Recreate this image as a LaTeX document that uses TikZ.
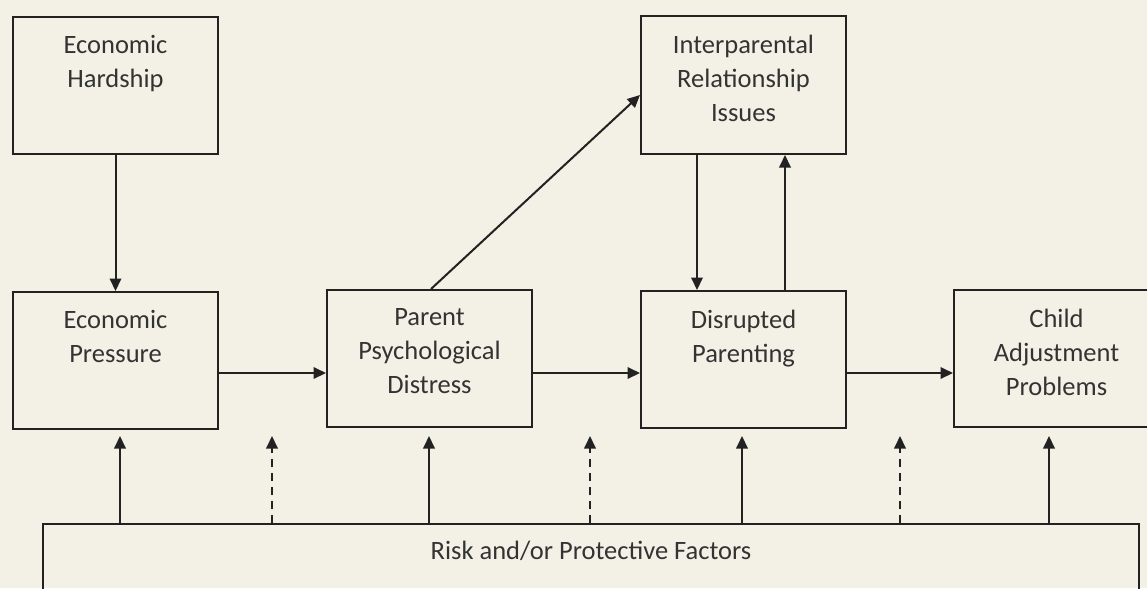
\documentclass[tikz,border=0pt]{standalone}
\usepackage{fontspec}
\setmainfont{Carlito}
\usepackage{tikz}
\usetikzlibrary{arrows.meta,positioning}
\definecolor{paper}{RGB}{243,241,230}
\definecolor{ink}{RGB}{34,34,34}
\definecolor{txtgray}{RGB}{51,51,51}

\begin{document}
\begin{tikzpicture}[x=0.4pt,y=-0.4pt,
		box/.style={draw=ink,line width=.8pt,minimum width=82pt,minimum height=54.8pt,anchor=north west,inner sep=0pt},
		txt/.style={anchor=north,align=center,inner sep=0pt,yshift=-7.7pt,text=txtgray,
			font=\fontsize{10.6}{13.6}\selectfont,execute at begin node=\strut},
		arr/.style={draw=ink,line width=.8pt,-{Triangle[length=5pt,width=4.6pt]}},
		dsh/.style={arr,dash pattern=on 3.2pt off 2.4pt}
		]
			\useasboundingbox[fill=paper] (0,0) rectangle (1147,588);
			\node[box,label={[txt]north:Economic\\Hardship}] (hardship) at (12,16) {};
			\node[box,label={[txt]north:Economic\\Pressure}] (pressure) at (12,291) {};
			\node[box,label={[txt]north:Parent\\Psychological\\Distress}] (distress) at (326,289) {};
			\node[box,minimum height=55.2pt,label={[txt]north:Interparental\\Relationship\\Issues}] (inter) at (640,15) {};
			\node[box,label={[txt]north:Disrupted\\Parenting}] (disrupted) at (640,290) {};
			\node[box,label={[txt]north:Child\\Adjustment\\Problems}] (child) at (953,289) {};
			\node[box,minimum width=438.4pt,minimum height=60pt,label={[txt,yshift=3pt]north:Risk and/or Protective Factors}] (risk) at (42,523) {};
			\coordinate (lane) at (0,373);
			\draw[arr] (hardship) -- (pressure);
			\draw[arr] (pressure.east |- lane) -- (distress.west |- lane);
			\draw[arr] (distress.east |- lane) -- (disrupted.west |- lane);
			\draw[arr] (disrupted.east |- lane) -- (child.west |- lane);
			\draw[arr] ([xshift=0.6pt]distress.north) -- ([yshift=-4pt]inter.west);
			\draw[arr] (inter.south -| 697,0) -- (disrupted.north -| 697,0);
			\draw[arr] (disrupted.north -| 785,0) -- (inter.south -| 785,0);
			\foreach \x in {120,429,742,1049}
				\draw[arr] (risk.north -| \x,0) -- ++(0,-87);
			\foreach \x in {272,590,900}
				\draw[dsh] (risk.north -| \x,0) -- ++(0,-87);
		\end{tikzpicture}
\end{document}
